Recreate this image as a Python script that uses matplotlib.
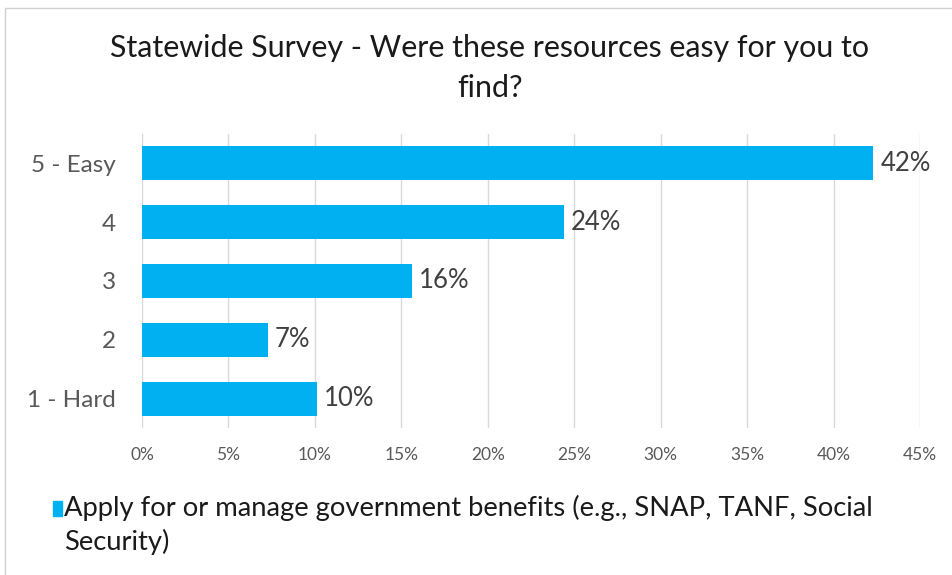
import matplotlib.pyplot as plt
from matplotlib.patches import Rectangle

categories = ["1 - Hard", "2", "3", "4", "5 - Easy"]
values = [10.1, 7.3, 15.6, 24.4, 42.3]
value_labels = ["10%", "7%", "16%", "24%", "42%"]
xticks = [0, 5, 10, 15, 20, 25, 30, 35, 40, 45]
series_name = "Apply for or manage government benefits (e.g., SNAP, TANF, Social\nSecurity)"
title = "Statewide Survey - Were these resources easy for you to\nfind?"

plt.rcParams['font.family'] = ['Lato', 'DejaVu Sans']

blue = "#00B0F0"
fig = plt.figure(figsize=(9.53, 5.75), dpi=100)
ax = fig.add_axes([142 / 953, 1 - 428 / 575, (920 - 142) / 953, (428 - 134) / 575])

ax.barh(range(len(categories)), values, height=0.58, color=blue, zorder=3)
for i, (v, lab) in enumerate(zip(values, value_labels)):
    ax.text(v + 0.4, i, lab, va="center", ha="left", fontsize=18.5, color="#404040")

ax.set_xlim(0, 45)
ax.set_ylim(-0.5, len(categories) - 0.5)
ax.set_xticks(xticks)
ax.set_xticklabels([f"{t}%" for t in xticks], fontsize=12.5, color="#595959")
ax.set_yticks(range(len(categories)))
ax.set_yticklabels(categories, fontsize=17.5, color="#595959")
ax.tick_params(axis="both", length=0)
ax.tick_params(axis="x", pad=14)
ax.tick_params(axis="y", pad=19)
ax.grid(axis="x", color="#D9D9D9", linewidth=1, zorder=0)
for s in ax.spines.values():
    s.set_visible(False)

fig.text(490 / 953, 1 - 68 / 575, title, ha="center", va="center", fontsize=21.9,
         color="#1a1a1a", linespacing=1.5)

# legend
fig.patches.append(Rectangle((53 / 953, 1 - 516 / 575), 9 / 953, 15 / 575,
                             transform=fig.transFigure, color=blue))
fig.text(64 / 953, 1 - 525 / 575, series_name, ha="left", va="center", fontsize=19.7,
         color="#1a1a1a", linespacing=1.4)

# chart border
fig.patches.append(Rectangle((5 / 953, -0.1), 1.2, 1 - 8 / 575 + 0.1,
                             transform=fig.transFigure, fill=False,
                             edgecolor="#D0D0D0", linewidth=1))

fig.savefig("out.png", dpi=100, facecolor="white")
